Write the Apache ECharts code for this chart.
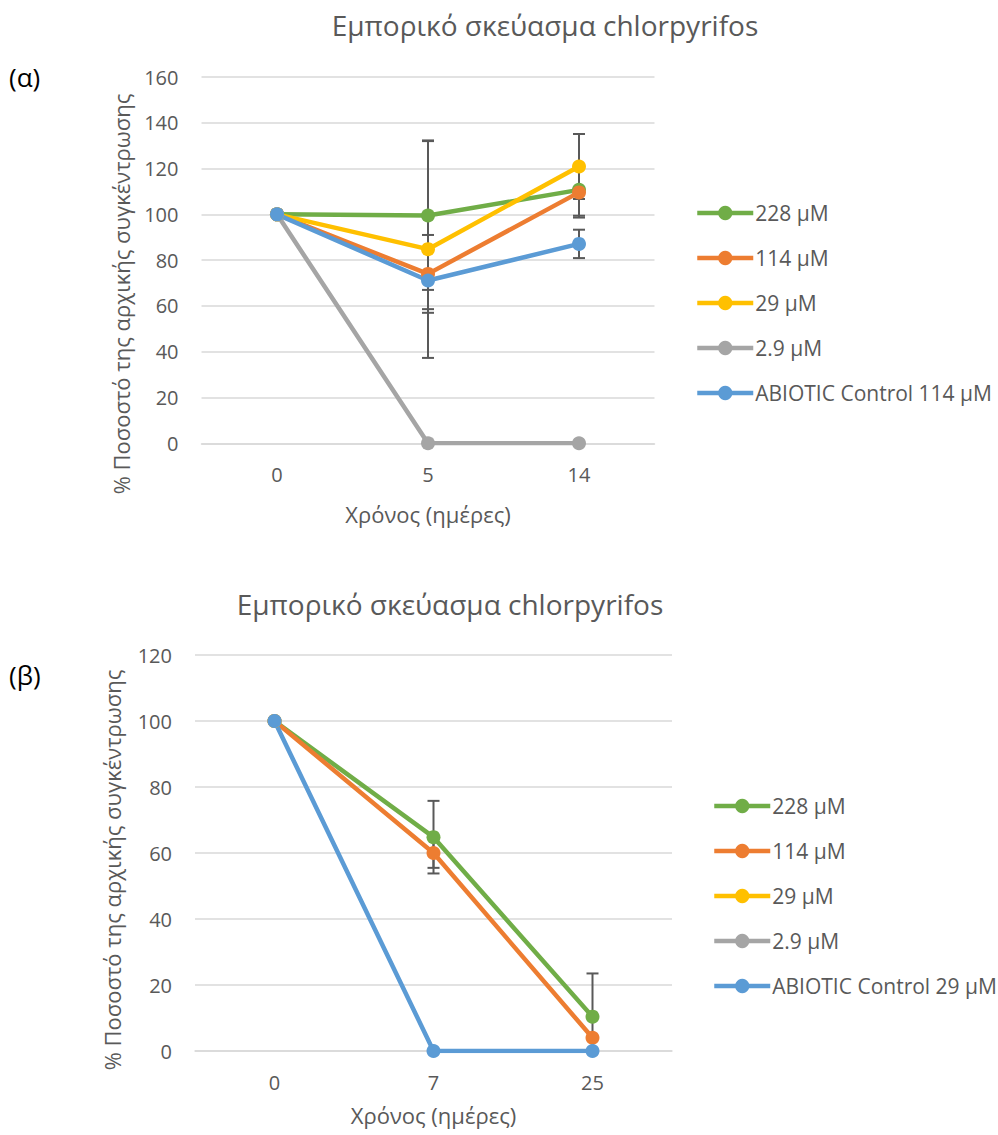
<!DOCTYPE html>
<html>
<head>
<meta charset="utf-8">
<script src="https://cdn.jsdelivr.net/npm/echarts@6/dist/echarts.min.js"></script>
<style>
  html, body { margin: 0; padding: 0; background: #ffffff; }
  #chart { width: 998px; height: 1135px; }
</style>
</head>
<body>
<div id="chart"></div>
<script>
// ---- Data: chart (α) ----
const daysA = ['0', '5', '14'];
const a228 = [100, 99.5, 110.7];
const a114 = [100, 74, 109.6];
const a29 = [100, 84.8, 120.9];
const a2_9 = [100, 0, 0];
const aAbiotic = [100, 71.1, 87.1];
const a228Err = [null, 32.5, 11.3];
const a114Err = [null, 17, 11];
const a29Err = [null, 47.5, 14.2];
const a2_9Err = [null, null, null];
const aAbioticErr = [null, 12.5, 6.2];

// ---- Data: chart (β) ----
const daysB = ['0', '7', '25'];
const b228 = [100, 64.8, 10.4];
const b114 = [100, 60, 4];
const b29 = [100, null, null];
const b2_9 = [100, null, null];
const bAbiotic = [100, 0, 0];
const b228Err = [null, 11, 13.1];
const b114Err = [null, 4.5, null];
const b29Err = [null, null, null];
const b2_9Err = [null, null, null];
const bAbioticErr = [null, null, null];

const titleText = 'Εμπορικό σκεύασμα chlorpyrifos';
const xName = 'Χρόνος (ημέρες)';
const yName = '% Ποσοστό της αρχικής συγκέντρωσης';
const namesA = ['228 µM', '114 µM', '29 µM', '2.9 µM', 'ABIOTIC Control 114 µM'];
const namesB = ['228 µM', '114 µM', '29 µM', '2.9 µM', 'ABIOTIC Control 29 µM'];
const colors = ['#70AD47', '#ED7D31', '#FFC000', '#A5A5A5', '#5B9BD5'];

const FONT = 'Open Sans';
const TXT = '#595959';
const GRID = '#D9D9D9';

function errSeries(name, vals, errs, gi) {
  const data = vals.map((v, i) => [i, v, errs[i]]).filter(d => d[1] != null && d[2] != null);
  return {
    type: 'custom', name: name + ' err', xAxisIndex: gi, yAxisIndex: gi,
    silent: true, legendHoverLink: false,
    data: data,
    renderItem: function (params, api) {
      const idx = api.value(0), v = api.value(1), e = api.value(2);
      const hi = v + e, lo = Math.max(v - e, 0);
      const pHi = api.coord([idx, hi]);
      const pLo = api.coord([idx, lo]);
      const x = pHi[0];
      const cap = 6;
      const style = { stroke: '#595959', lineWidth: 2 };
      const children = [
        { type: 'line', shape: { x1: x, y1: pHi[1], x2: x, y2: pLo[1] }, style: style },
        { type: 'line', shape: { x1: x - cap, y1: pHi[1], x2: x + cap, y2: pHi[1] }, style: style }
      ];
      if (v - e >= 0) {
        children.push({ type: 'line', shape: { x1: x - cap, y1: pLo[1], x2: x + cap, y2: pLo[1] }, style: style });
      }
      return { type: 'group', children: children };
    }
  };
}

function lineSeries(name, vals, color, gi) {
  return {
    type: 'line', name: name, xAxisIndex: gi, yAxisIndex: gi,
    data: vals, symbol: 'circle', symbolSize: 14,
    lineStyle: { color: color, width: 4.5 },
    itemStyle: { color: color },
    connectNulls: false, animation: false
  };
}

const setsA = [a228, a114, a29, a2_9, aAbiotic];
const errsA = [a228Err, a114Err, a29Err, a2_9Err, aAbioticErr];
const setsB = [b228, b114, b29, b2_9, bAbiotic];
const errsB = [b228Err, b114Err, b29Err, b2_9Err, bAbioticErr];

const series = [];
setsA.forEach((s, i) => {
  series.push(errSeries(namesA[i], s, errsA[i], 0));
  series.push(lineSeries(namesA[i], s, colors[i], 0));
});
setsB.forEach((s, i) => {
  series.push(errSeries(namesB[i], s, errsB[i], 1));
  series.push(lineSeries(namesB[i], s, colors[i], 1));
});

function xAxis(gi, cats, gap) {
  return {
    type: 'category', gridIndex: gi, data: cats, boundaryGap: true,
    axisLine: { show: true, lineStyle: { color: GRID, width: 1.5 } },
    axisTick: { show: false },
    axisLabel: { color: TXT, fontFamily: FONT, fontSize: 20, margin: 21 },
    name: xName, nameLocation: 'middle', nameGap: gap,
    nameTextStyle: { color: TXT, fontFamily: FONT, fontSize: 22 }
  };
}
function yAxis(gi, max) {
  return {
    type: 'value', gridIndex: gi, min: 0, max: max, interval: 20,
    axisLine: { show: false }, axisTick: { show: false },
    axisLabel: { color: TXT, fontFamily: FONT, fontSize: 20, margin: 23 },
    splitLine: { lineStyle: { color: GRID, width: 1.5 } }
  };
}
function legend(names, left, top) {
  return {
    orient: 'vertical', left: left, top: top, data: names,
    itemWidth: 56, itemHeight: 18, itemGap: 21, padding: 0,
    lineStyle: { width: 4.5 },
    textStyle: { color: TXT, fontFamily: FONT, fontSize: 21, lineHeight: 24, padding: [0, 0, 0, -3] },
    selectedMode: false
  };
}

const chart = echarts.init(document.getElementById('chart'), null, { renderer: 'svg' });
chart.setOption({
  backgroundColor: '#ffffff',
  animation: false,
  title: [
    { text: titleText, left: 545, top: 11, textAlign: 'center', padding: 0,
      textStyle: { color: TXT, fontFamily: FONT, fontSize: 28, fontWeight: 'normal' } },
    { text: titleText, left: 450, top: 590, textAlign: 'center', padding: 0,
      textStyle: { color: TXT, fontFamily: FONT, fontSize: 28, fontWeight: 'normal' } }
  ],
  grid: [
    { left: 201.5, top: 77, width: 453, height: 366.3 },
    { left: 195, top: 655, width: 477, height: 396 }
  ],
  xAxis: [xAxis(0, daysA, 60), xAxis(1, daysB, 53)],
  yAxis: [yAxis(0, 160), yAxis(1, 120)],
  legend: [legend(namesA, 695, 201), legend(namesB, 712, 794)],
  graphic: [
    { type: 'text', left: 9, top: 64, style: { text: '(α)', fill: '#000000', font: '26px "Open Sans"' } },
    { type: 'text', left: 9, top: 662, style: { text: '(β)', fill: '#000000', font: '26px "Open Sans"' } },
    { type: 'text', x: 121, y: 294, rotation: Math.PI / 2,
      style: { text: yName, fill: TXT, font: '22px "Open Sans"', align: 'center', verticalAlign: 'middle' } },
    { type: 'text', x: 112, y: 870, rotation: Math.PI / 2,
      style: { text: yName, fill: TXT, font: '22px "Open Sans"', align: 'center', verticalAlign: 'middle' } }
  ],
  series: series
});
</script>
</body>
</html>
